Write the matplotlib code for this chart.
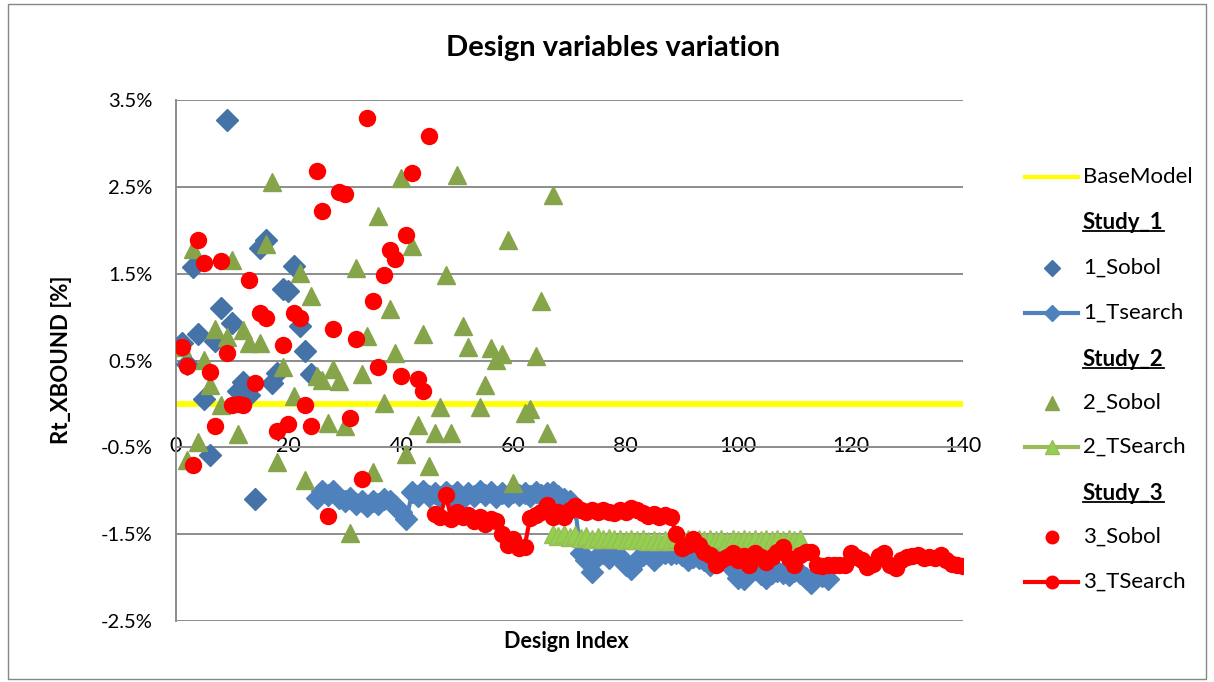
import numpy as np
import matplotlib
matplotlib.use("Agg")
import matplotlib.pyplot as plt
from matplotlib.lines import Line2D
from matplotlib.patches import Rectangle
from matplotlib.ticker import FuncFormatter

plt.rcParams['font.family'] = ['Lato', 'DejaVu Sans']

# ---- data (values in %) ----
base_x = [0, 140]
base_y = [0.0, 0.0]

sobol1_x = list(range(1, 25))
sobol1_y = [0.70, 0.46, 1.58, 0.80, 0.06, -0.59, 0.72, 1.11, 3.27, 0.93, 0.15, 0.25,
            0.10, -1.09, 1.80, 1.89, 0.24, 0.36, 1.32, 1.30, 1.59, 0.90, 0.61, 0.34]

tsearch1_start = 25
tsearch1_y = [-1.08, -1.00, -1.05, -1.00, -1.08, -1.12, -1.08, -1.15, -1.12, -1.17,
              -1.12, -1.15, -1.10, -1.12, -1.18, -1.25, -1.33,
              -1.02, -1.06, -1.00, -1.06, -1.03, -1.07, -1.01, -1.06, -1.02, -1.08,
              -1.03, -1.06, -1.00, -1.05, -1.02, -1.07, -1.03, -1.06, -1.01, -1.05,
              -1.03, -1.06, -1.02, -1.05, -1.03, -1.01, -1.06, -1.10, -1.12, -1.20,
              -1.72, -1.80, -1.93, -1.75, -1.72, -1.78, -1.72, -1.76, -1.85, -1.90,
              -1.80, -1.74, -1.72, -1.80, -1.74, -1.72, -1.73, -1.72, -1.74, -1.80,
              -1.76, -1.78, -1.80, -1.85, -1.78, -1.80, -1.82, -1.90, -2.00, -2.02,
              -1.95, -1.90, -1.96, -2.00, -1.95, -1.92, -1.95, -1.97, -1.92, -1.95,
              -2.00, -2.06, -1.96, -1.98, -2.02]

sobol2_x = [1, 2, 3, 4, 5, 6, 7, 8, 9, 10, 11, 12, 13, 15, 16, 17, 18, 19, 21, 22,
            23, 24, 25, 26, 27, 28, 29, 30, 31, 32, 33, 34, 35, 36, 37, 38, 39, 40,
            41, 42, 43, 44, 45, 46, 47, 48, 49, 50, 51, 52, 54, 55, 56, 57, 58, 59,
            60, 62, 63, 64, 65, 66, 67]
sobol2_y = [0.66, -0.65, 1.78, -0.44, 0.51, 0.22, 0.86, -0.01, 0.77, 1.66, -0.35, 0.85,
            0.70, 0.70, 1.84, 2.55, -0.67, 0.42, 0.09, 1.51, -0.88, 1.24, 0.32, 0.28,
            -0.22, 0.40, 0.26, -0.26, -1.49, 1.56, 0.34, 0.78, -0.78, 2.16, 0.01, 1.09,
            0.59, 2.60, -0.58, 1.82, -0.24, 0.80, -0.72, -0.33, -0.03, 1.49, -0.34,
            2.64, 0.90, 0.65, -0.03, 0.22, 0.64, 0.51, 0.57, 1.89, -0.91, -0.10, -0.06,
            0.55, 1.19, -0.34, 2.41]

tsearch2_start = 67
tsearch2_y = [-1.50, -1.52, -1.50, -1.53, -1.51, -1.54, -1.52, -1.55, -1.53, -1.55,
              -1.54, -1.56, -1.55, -1.57, -1.55, -1.57, -1.56, -1.58, -1.57, -1.58,
              -1.57, -1.58, -1.56, -1.57, -1.56, -1.57, -1.55, -1.57, -1.56, -1.57,
              -1.56, -1.58, -1.56, -1.57, -1.55, -1.57, -1.56, -1.57, -1.56, -1.57,
              -1.55, -1.57, -1.56, -1.57, -1.56]

sobol3_x = [1, 2, 3, 4, 5, 6, 7, 8, 9, 10, 11, 12, 13, 14, 15, 16, 18, 19, 20, 21,
            22, 23, 24, 25, 26, 27, 28, 29, 30, 31, 32, 33, 34, 35, 36, 37, 38, 39,
            40, 41, 42, 43, 44, 45]
sobol3_y = [0.66, 0.44, -0.70, 1.89, 1.62, 0.37, -0.26, 1.65, 0.59, -0.01, 0.00, -0.01,
            1.43, 0.24, 1.05, 0.99, -0.31, 0.68, -0.23, 1.05, 0.99, -0.01, -0.26, 2.68,
            2.22, -1.29, 0.86, 2.44, 2.42, -0.16, 0.75, -0.87, 3.29, 1.19, 0.42, 1.48,
            1.77, 1.67, 0.32, 1.94, 2.66, 0.29, 0.15, 3.08]

tsearch3_start = 46
tsearch3_y = [-1.27, -1.30, -1.05, -1.33, -1.25, -1.30, -1.28, -1.35, -1.30, -1.38,
              -1.33, -1.35, -1.50, -1.62, -1.55, -1.66, -1.65, -1.31, -1.28, -1.25,
              -1.16, -1.30, -1.25, -1.30, -1.22, -1.18, -1.22,
              -1.25, -1.22, -1.24, -1.22, -1.24, -1.26, -1.22, -1.25, -1.20, -1.22,
              -1.26, -1.29, -1.27, -1.30, -1.28, -1.30, -1.50, -1.66, -1.62, -1.56,
              -1.62, -1.70, -1.74, -1.85,
              -1.80, -1.76, -1.72, -1.80, -1.75, -1.85, -1.72, -1.76, -1.82, -1.76,
              -1.70, -1.65, -1.78, -1.86, -1.74, -1.71, -1.71, -1.86, -1.87, -1.86,
              -1.86, -1.85, -1.86, -1.72, -1.76, -1.80, -1.88, -1.84, -1.75, -1.72,
              -1.85, -1.89, -1.80, -1.76, -1.75, -1.74, -1.78, -1.76, -1.78, -1.74,
              -1.80, -1.84, -1.86, -1.87]

yticks = [-2.5, -1.5, -0.5, 0.5, 1.5, 2.5, 3.5]
xticks = [0, 20, 40, 60, 80, 100, 120, 140]

legend_rows = ["BaseModel", "Study_1", "1_Sobol", "1_Tsearch", "Study_2", "2_Sobol",
               "2_TSearch", "Study_3", "3_Sobol", "3_TSearch"]

# ---- styles ----
C_BASE = "#FFFF00"
C_S1, C_T1 = "#4572A7", "#4F81BD"
C_S2, C_T2, C_T2F = "#86A44A", "#9BBB59", "#92D050"
C_RED = "#FF0000"
GRID = "#8C8C8C"

W, H = 1214, 682
fig = plt.figure(figsize=(W / 100, H / 100), dpi=100)
ax = fig.add_axes([176 / W, 1 - 621 / H, (963 - 176) / W, (621 - 100) / H])

ax.plot(base_x, base_y, color=C_BASE, lw=4.2, zorder=2)
ax.plot(sobol1_x, sobol1_y, ls="none", marker="D", ms=11, color=C_S1, zorder=3)
x1 = np.arange(tsearch1_start, tsearch1_start + len(tsearch1_y))
ax.plot(x1, tsearch1_y, color=C_T1, lw=3, marker="D", ms=11, zorder=4)
ax.plot(sobol2_x, sobol2_y, ls="none", marker="^", ms=13.5, color=C_S2, zorder=5)
x2 = np.arange(tsearch2_start, tsearch2_start + len(tsearch2_y))
ax.plot(x2, tsearch2_y, color=C_T2, lw=3, marker="^", ms=13.5, mfc=C_T2F, mec=C_T2, zorder=6)
ax.plot(sobol3_x, sobol3_y, ls="none", marker="o", ms=11.5, color=C_RED, zorder=7)
x3 = np.arange(tsearch3_start, tsearch3_start + len(tsearch3_y))
ax.plot(x3, tsearch3_y, color=C_RED, lw=3, marker="o", ms=11.5, zorder=8)

ax.set_xlim(0, 140)
ax.set_ylim(-2.5, 3.5)
ax.set_yticks(yticks)
ax.set_xticks(xticks)
ax.yaxis.set_major_formatter(FuncFormatter(lambda v, p: "%.1f%%" % v))
ax.grid(axis="y", color=GRID, lw=1.4, zorder=0)
ax.set_axisbelow(True)
for s in ["top", "right"]:
    ax.spines[s].set_visible(False)
ax.spines["left"].set_color(GRID)
ax.spines["left"].set_linewidth(1.4)
ax.spines["bottom"].set_position(("data", -0.5))
ax.spines["bottom"].set_visible(False)
ax.tick_params(axis="y", length=0, pad=17, labelsize=14.5)
ax.tick_params(axis="x", length=0, pad=-8.5, labelsize=15.5)
for lab in ax.get_xticklabels():
    lab.set_clip_on(False)

fig.text(613 / W, 1 - 48 / H, "Design variables variation", ha="center", va="center",
         fontsize=21, fontweight="bold")
fig.text(566 / W, 1 - 642 / H, "Design Index", ha="center", va="center",
         fontsize=15.5, fontweight="bold")
fig.text(62 / W, 1 - 360 / H, "Rt_XBOUND [%]", ha="center", va="center",
         rotation=90, fontsize=16, fontweight="bold")

# ---- legend (drawn by hand, Excel style) ----
row_px = [177, 223, 268, 313, 359, 403, 447, 493, 537, 582]
handles = {
    "BaseModel": dict(color=C_BASE, line=True, marker=None),
    "1_Sobol": dict(color=C_S1, line=False, marker="D", ms=8),
    "1_Tsearch": dict(color=C_T1, line=True, marker="D", ms=8),
    "2_Sobol": dict(color=C_S2, line=False, marker="^", ms=10),
    "2_TSearch": dict(color=C_T2, line=True, marker="^", ms=10, mfc=C_T2F),
    "3_Sobol": dict(color=C_RED, line=False, marker="o", ms=9),
    "3_TSearch": dict(color=C_RED, line=True, marker="o", ms=9),
}
headers = []
for label, ypx in zip(legend_rows, row_px):
    yf = 1 - ypx / H
    if label in handles:
        h = handles[label]
        if h["line"]:
            fig.add_artist(Line2D([1025 / W, 1078 / W], [yf, yf], color=h["color"],
                                  lw=3, transform=fig.transFigure))
        if h["marker"]:
            fig.add_artist(Line2D([1051.5 / W], [yf], ls="none", marker=h["marker"],
                                  ms=h["ms"], color=h["color"],
                                  mfc=h.get("mfc", h["color"]),
                                  transform=fig.transFigure))
        fig.text(1083 / W, yf, label, ha="left", va="center", fontsize=16)
    else:
        t = fig.text(1083 / W, yf, label, ha="left", va="center", fontsize=16,
                     fontweight="bold")
        headers.append((t, ypx))

fig.canvas.draw()
for t, ypx in headers:
    bb = t.get_window_extent()
    yl = 1 - (ypx + 8.5) / H
    fig.add_artist(Line2D([bb.x0 / W, bb.x1 / W], [yl, yl], color="black", lw=1.3,
                          transform=fig.transFigure))

fig.add_artist(Rectangle((8 / W, 3 / H), (1206 - 8) / W, (678 - 3) / H, fill=False,
                         edgecolor="#868686", lw=1, transform=fig.transFigure))

fig.savefig("out.png", dpi=100)
